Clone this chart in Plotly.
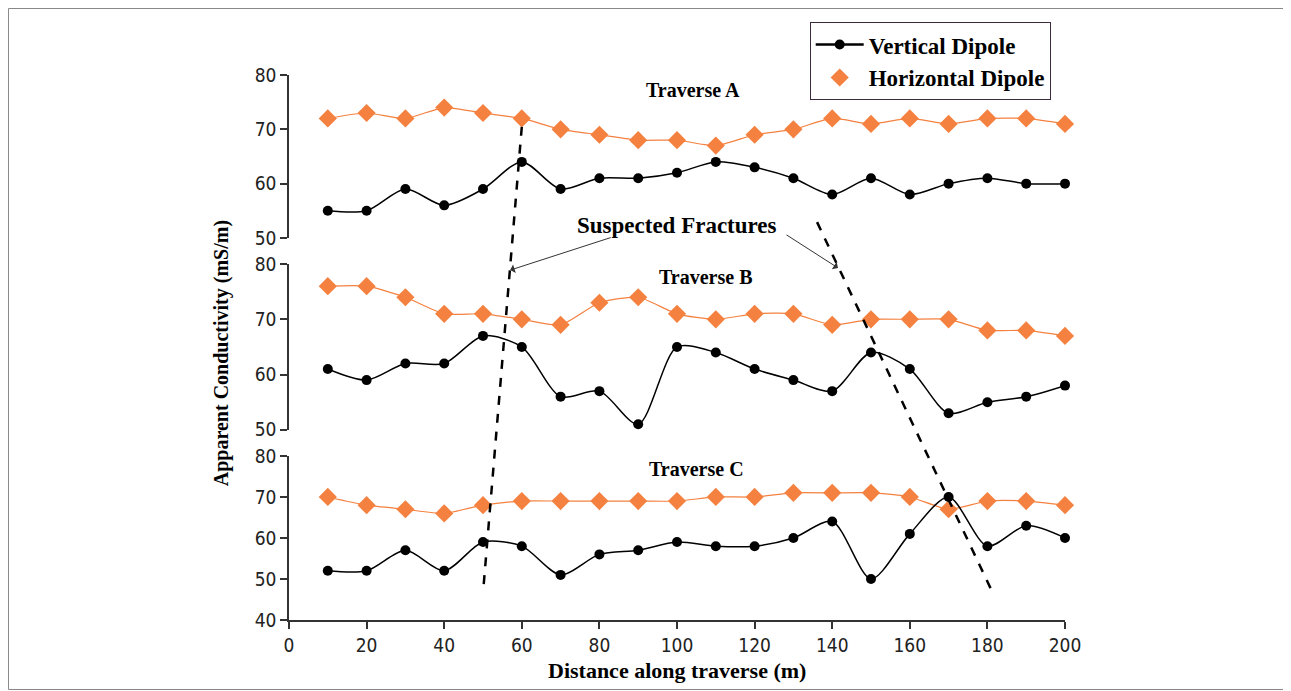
import plotly.graph_objects as go

# ---------------- data ----------------
distance = [10, 20, 30, 40, 50, 60, 70, 80, 90, 100, 110, 120, 130, 140, 150, 160, 170, 180, 190, 200]

a_vertical = [55, 55, 59, 56, 59, 64, 59, 61, 61, 62, 64, 63, 61, 58, 61, 58, 60, 61, 60, 60]
a_horizontal = [72, 73, 72, 74, 73, 72, 70, 69, 68, 68, 67, 69, 70, 72, 71, 72, 71, 72, 72, 71]

b_vertical = [61, 59, 62, 62, 67, 65, 56, 57, 51, 65, 64, 61, 59, 57, 64, 61, 53, 55, 56, 58]
b_horizontal = [76, 76, 74, 71, 71, 70, 69, 73, 74, 71, 70, 71, 71, 69, 70, 70, 70, 68, 68, 67]

c_vertical = [52, 52, 57, 52, 59, 58, 51, 56, 57, 59, 58, 58, 60, 64, 50, 61, 70, 58, 63, 60]
c_horizontal = [70, 68, 67, 66, 68, 69, 69, 69, 69, 69, 70, 70, 71, 71, 71, 70, 67, 69, 69, 68]

x_ticks = [0, 20, 40, 60, 80, 100, 120, 140, 160, 180, 200]
ab_ticks = [50, 60, 70, 80]
c_ticks = [40, 50, 60, 70, 80]

# suspected fracture lines: x (distance) at top and bottom
fracture1_x = [60.0, 50.0]
fracture2_x = [136.1, 181.4]

# ---------------- styles ----------------
BLACK = "#000000"
ORANGE = "#F4813F"
AXC = "#333333"
SERIF = "Liberation Serif, Times New Roman, serif"
SANS = "DejaVu Sans Condensed, DejaVu Sans, sans-serif"

fig = go.Figure()

panels = [("y3", a_vertical, a_horizontal), ("y2", b_vertical, b_horizontal), ("y", c_vertical, c_horizontal)]
for yax, vert, horiz in panels:
    fig.add_trace(go.Scatter(x=distance, y=horiz, yaxis=yax, mode="lines+markers",
                             line=dict(color=ORANGE, width=1.2, shape="spline", smoothing=0.6),
                             marker=dict(symbol="diamond", size=14, color=ORANGE),
                             showlegend=False, cliponaxis=False))
    fig.add_trace(go.Scatter(x=distance, y=vert, yaxis=yax, mode="lines+markers",
                             line=dict(color=BLACK, width=1.5, shape="spline", smoothing=0.8),
                             marker=dict(symbol="circle", size=10, color=BLACK),
                             showlegend=False, cliponaxis=False))

# legend-only entries
fig.add_trace(go.Scatter(x=[None], y=[None], mode="lines+markers", name="<b>Vertical Dipole</b>",
                         line=dict(color=BLACK, width=2.5), marker=dict(size=10, color=BLACK)))
fig.add_trace(go.Scatter(x=[None], y=[None], mode="markers", name="<b>Horizontal Dipole</b>",
                         marker=dict(symbol="diamond", size=14, color=ORANGE)))

yax_common = dict(showgrid=False, zeroline=False, showline=True, linecolor=AXC, linewidth=1.5,
                  ticks="outside", ticklen=7, tickcolor=AXC, tickwidth=1.5,
                  tickfont=dict(family=SANS, size=19, color="#222"), anchor="x")

fig.update_layout(
    width=1283, height=683,
    margin=dict(l=281, r=226, t=67, b=71),
    paper_bgcolor="white", plot_bgcolor="white",
    xaxis=dict(range=[0, 200], tickvals=x_ticks, showgrid=False, zeroline=False, showline=True,
               linecolor=AXC, linewidth=1.5, ticks="outside", ticklen=7, tickcolor=AXC, tickwidth=1.5,
               tickfont=dict(family=SANS, size=19, color="#222"), anchor="y"),
    yaxis=dict(domain=[0, 0.301], range=[40, 80], tickvals=c_ticks, **yax_common),
    yaxis2=dict(domain=[0.349, 0.653], range=[50, 80], tickvals=ab_ticks, **yax_common),
    yaxis3=dict(domain=[0.701, 1.0], range=[50, 80], tickvals=ab_ticks, **yax_common),
    legend=dict(x=0.671, y=1.097, xanchor="left", yanchor="top", bgcolor="white",
                bordercolor="#3a2a3a", borderwidth=1, tracegroupgap=0, itemwidth=48,
                font=dict(family=SERIF, size=23, color="black")),
    showlegend=True,
)

# fracture dashed lines
for fx, ytop in ((fracture1_x, 0.905), (fracture2_x, 0.730)):
    fig.add_shape(type="line", xref="x", yref="paper", x0=fx[0], x1=fx[1], y0=ytop, y1=0.0495,
                  line=dict(color=BLACK, width=2.5, dash="dash"))

bold = lambda s: "<b>" + s + "</b>"
for txt, xx, yy, sz in [("Traverse A", 104, 0.972, 20), ("Traverse B", 107.5, 0.629, 20),
                        ("Traverse C", 105, 0.277, 20), ("Suspected Fractures", 100, 0.723, 23)]:
    fig.add_annotation(text=bold(txt), x=xx, y=yy, xref="x", yref="paper", showarrow=False,
                       xanchor="center", yanchor="middle",
                       font=dict(family=SERIF, size=sz, color="black"))

# arrows
fig.add_annotation(text="", x=57, y=0.642, xref="x", yref="paper", ax=102, ay=-33,
                   showarrow=True, arrowhead=1, arrowsize=1.5, arrowwidth=1, arrowcolor="#333")
fig.add_annotation(text="", x=141.5, y=0.646, xref="x", yref="paper", ax=-53, ay=-34,
                   showarrow=True, arrowhead=1, arrowsize=1.5, arrowwidth=1, arrowcolor="#333")

# axis titles
fig.add_annotation(text=bold("Apparent Conductivity (mS/m)"), x=-0.086, y=0.49, xref="paper", yref="paper",
                   xanchor="center", yanchor="middle",
                   textangle=-90, showarrow=False, font=dict(family=SERIF, size=20, color="black"))
fig.add_annotation(text=bold("Distance along traverse (m)"), x=0.5, y=-0.092, xref="paper", yref="paper",
                   xanchor="center", yanchor="middle",
                   showarrow=False, font=dict(family=SERIF, size=22, color="black"))

# outer frame
fig.add_shape(type="rect", xref="paper", yref="paper", x0=-0.3615, x1=1.2893, y0=-0.1275, y1=1.1220,
              line=dict(color="#888", width=1))

fig.write_html("out.html")
